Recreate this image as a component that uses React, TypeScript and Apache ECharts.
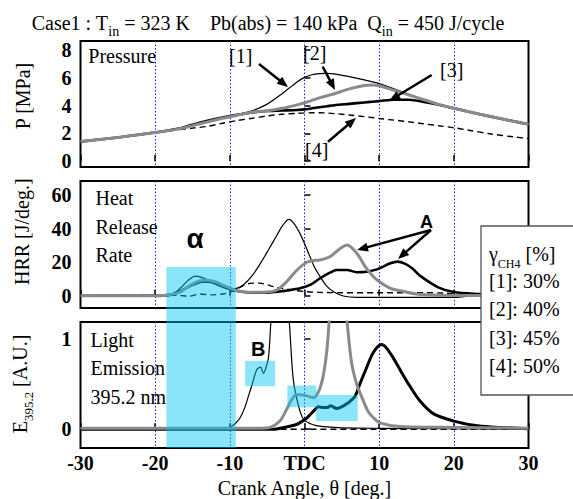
import React, { useEffect, useRef } from 'react';
import * as echarts from 'echarts';

const SERIF = '"Liberation Serif","Times New Roman",serif';
const SANS = '"Liberation Sans",Arial,sans-serif';

// ---- x axis ticks ----
const xTicks = [-30, -20, -10, 0, 10, 20, 30];

// ---- Pressure [MPa] ----
const pTheta = [-30, -25, -20, -17, -15, -13, -11, -9, -7, -5, -3, -1, 0, 1, 2, 3, 4, 6, 8, 9, 10, 12, 14, 16, 18, 20, 22, 25, 28, 30];
const p1 = [1.4, 1.7, 2.05, 2.32, 2.62, 2.88, 3.12, 3.35, 3.62, 4.1, 4.85, 5.7, 6.03, 6.22, 6.3, 6.32, 6.28, 6.08, 5.85, 5.72, 5.58, 5.2, 4.8, 4.42, 4.08, 3.8, 3.55, 3.2, 2.87, 2.66];
const p2 = [1.4, 1.7, 2.05, 2.3, 2.55, 2.82, 3.08, 3.3, 3.52, 3.62, 3.8, 4.05, 4.2, 4.37, 4.55, 4.7, 4.85, 5.2, 5.45, 5.48, 5.42, 5.1, 4.76, 4.42, 4.08, 3.8, 3.55, 3.2, 2.86, 2.65];
const p3 = [1.4, 1.7, 2.05, 2.32, 2.62, 2.9, 3.14, 3.34, 3.5, 3.6, 3.64, 3.68, 3.72, 3.8, 3.88, 3.95, 4.02, 4.12, 4.22, 4.27, 4.32, 4.42, 4.42, 4.26, 4.05, 3.8, 3.55, 3.2, 2.86, 2.65];
const p4 = [1.4, 1.7, 2.03, 2.25, 2.37, 2.5, 2.72, 2.92, 3.08, 3.25, 3.37, 3.44, 3.46, 3.48, 3.48, 3.46, 3.42, 3.32, 3.2, 3.14, 3.07, 2.95, 2.82, 2.68, 2.54, 2.4, 2.22, 1.95, 1.74, 1.62];
const pTicks = [0, 2, 4, 6, 8];

// ---- Heat release rate [J/deg.] ----
const h1Theta = [-30, -20, -18.5, -17.5, -16.5, -15.5, -14.6, -13.5, -12.5, -11, -10, -9, -8.2, -7, -5.9, -4.8, -3.7, -2.9, -2.1, -1.4, -0.6, 0.1, 0.75, 1.4, 2.1, 3, 3.9, 5.2, 7, 20, 22, 30];
const h1 = [0, 0, 0.3, 1.5, 5, 9.5, 11.7, 10.5, 8, 5, 3.8, 4.5, 6.4, 12, 19.3, 27.5, 36, 42, 45.5, 43, 37, 30, 23, 16.5, 11.3, 5.5, 2.4, -0.2, -1, -1, -0.3, 0];
const h2Theta = [-30, -20, -18.5, -17, -16, -15, -14, -13.3, -12, -11, -10, -9, -7, -5, -3.7, -2.4, -1, 0.3, 1.2, 2.1, 3.4, 4.8, 5.7, 7, 8.3, 9.7, 11.5, 12.8, 15, 18, 30];
const h2 = [0, 0, 0.3, 1.5, 4, 7, 8.9, 9.4, 8.3, 6.5, 4.5, 3, 2, 2.2, 3.4, 8.3, 15.3, 19.9, 21, 21.3, 23.2, 28.2, 30.2, 25.3, 16.3, 9.4, 4.4, 3, 1, 0.3, 0];
const h3Theta = [-30, -20, -18, -16.5, -15, -13.5, -12.5, -11, -10, -9, -7, -5, -3.7, -2, -0.6, 0.75, 2.1, 3.4, 4.3, 5.7, 7, 8.3, 9.7, 11.5, 12.4, 13.5, 14.5, 15.5, 17.9, 20, 23.4, 26, 30];
const h3 = [0, 0, 0.5, 3, 6.5, 8.5, 8.2, 6, 4, 2.8, 1.8, 1.8, 2.4, 3.3, 4.4, 6.4, 10.4, 13.7, 15.3, 15.3, 14, 14.3, 15.7, 19.3, 20.3, 19, 16, 11.8, 5, 2.2, 1, 0.5, 0];
const h4Theta = [-30, -17, -15.5, -14, -12.5, -11, -10, -9, -8, -7, -6, -5, -4, -3, -1.5, 0.3, 2, 5, 10, 15, 19, 20.5, 22, 30];
const h4 = [0, 0.3, -0.3, 1, 0.5, 1, 2, 4, 6.5, 7.5, 7.5, 6.5, 5.2, 4.4, 3.2, 2.4, 2, 1.8, 1.8, 1.8, 1.5, 0.6, 0.2, 0];
const hTicks = [0, 20, 40, 60];

// ---- Light emission E395.2 [A.U.] ----
const e1Theta = [-30, -10.5, -10, -9.3, -8.6, -8, -7.5, -7, -6.4, -5.9, -5.5, -5.1, -4.8, -4.5, -4, -3.3, -2.6, -2, -1.5, -0.8, -0.14, 0.8, 1.6, 3, 5, 10, 30];
const e1 = [0, 0, 0.02, 0.06, 0.13, 0.24, 0.37, 0.5, 0.66, 0.69, 0.62, 0.7, 0.81, 1.2, 1.8, 2.5, 1.8, 1.15, 0.55, 0.26, 0.11, 0.06, 0.04, 0.025, 0.015, 0.01, 0];
const e2Theta = [-30, -6, -4.6, -3.3, -2.4, -1.7, -1, -0.3, 0.3, 1.2, 1.9, 2.5, 3, 3.3, 4.4, 5.7, 6.3, 7, 7.9, 8.5, 9.2, 10.1, 12.8, 20, 30];
const e2 = [0.01, 0.01, 0.02, 0.09, 0.22, 0.33, 0.385, 0.38, 0.37, 0.35, 0.42, 0.59, 0.88, 1.2, 2.4, 1.2, 0.74, 0.5, 0.31, 0.2, 0.13, 0.07, 0.03, 0.02, 0.01];
const e3Theta = [-30, -4, -3.3, -1, 0.1, 0.75, 1.2, 1.9, 2.5, 3, 3.5, 4.3, 5, 5.4, 6.1, 6.8, 7.4, 8.3, 9.2, 10.3, 11, 11.9, 12.8, 14.1, 15.5, 17.3, 20, 22.7, 25, 30];
const e3 = [0, 0, 0.01, 0.055, 0.11, 0.16, 0.2, 0.25, 0.24, 0.24, 0.26, 0.23, 0.25, 0.27, 0.31, 0.37, 0.5, 0.68, 0.85, 0.94, 0.9, 0.79, 0.66, 0.48, 0.31, 0.17, 0.09, 0.044, 0.025, 0.005];
const e4Theta = [-30, 0, 30];
const e4 = [0, 0, 0];
const eTicks = [0, 1];

// ---- legend ----
const legendItems = ['[1]: 30%', '[2]: 40%', '[3]: 45%', '[4]: 50%'];

// highlighted (cyan) regions: [grid of top-left, theta0, yTop, grid of bottom-right, theta1, yBottom]
const boxes: [number, number, number, number, number, number][] = [
  [1, -18.5, 17.1, 2, -9.2, -0.209],
  [2, -7.95, 0.76, 2, -3.93, 0.477],
  [2, -2.3, 0.485, 2, 1.6, 0.243],
  [2, 1.55, 0.38, 2, 7.13, 0.092],
];

const pairs = (xs: number[], ys: number[]) => xs.map((x, i) => [x, ys[i]]);

export default function App() {
  const ref = useRef<HTMLDivElement>(null);
  useEffect(() => {
    const chart = echarts.init(ref.current!, null, { renderer: 'svg' });
    const gridBase = { left: 80.5, width: 448, show: true, borderColor: '#000', borderWidth: 2, backgroundColor: 'transparent' };
    const grids = [
      { ...gridBase, top: 41, height: 126 },
      { ...gridBase, top: 181, height: 127 },
      { ...gridBase, top: 322, height: 127 },
    ];
    const yRanges = [[-0.43, 8.65, pTicks], [-7.33, 68.35, hTicks], [-0.209, 1.191, eTicks]] as const;
    const xAxes = [0, 1, 2].map((i) => ({
      type: 'value', gridIndex: i, min: xTicks[0], max: xTicks[xTicks.length - 1], interval: 10,
      axisLine: { show: false },
      axisTick: { show: true, inside: true, length: 6, lineStyle: { color: '#000', width: 1.5 } },
      axisLabel: {
        show: i === 2, margin: 5, fontFamily: SERIF, fontSize: 20, fontWeight: 'bold', color: '#000',
        showMinLabel: true, showMaxLabel: true,
        formatter: (v: number) => (v === 0 ? 'TDC' : String(v)),
      },
      splitLine: { show: true, showMinLine: false, showMaxLine: false, lineStyle: { color: '#1a1aff', width: 1, type: [1.5, 2] } },
      name: i === 2 ? 'Crank Angle, θ [deg.]' : '',
      nameLocation: 'middle', nameGap: 30,
      nameTextStyle: { fontFamily: SERIF, fontSize: 20, color: '#000' },
    }));
    const yAxes = yRanges.map(([mn, mx, ticks], i) => ({
      type: 'value', gridIndex: i, min: mn, max: mx,
      axisLine: { show: false },
      splitLine: { show: false },
      axisTick: { show: true, inside: true, length: 6, customValues: ticks as any, lineStyle: { color: '#000', width: 1.5 } },
      axisLabel: { show: true, customValues: ticks as any, margin: 9, fontFamily: SERIF, fontSize: 20, fontWeight: 'bold', color: '#000' },
    }));

    const thin = { color: '#000', width: 1.2 };
    const gray = { color: '#8a8a8a', width: 3 };
    const thick = { color: '#000', width: 2.6 };
    const dash = { color: '#000', width: 1.4, type: [6, 4] };
    const mk = (g: number, xs: number[], ys: number[], ls: any, name: string) => ({
      type: 'line', name, xAxisIndex: g, yAxisIndex: g, data: pairs(xs, ys),
      showSymbol: false, symbol: 'none', smooth: 0.3, lineStyle: ls, z: 2, silent: true,
    });
    const series = [
      mk(0, pTheta, p4, dash, '[4]'), mk(0, pTheta, p1, thin, '[1]'), mk(0, pTheta, p3, thick, '[3]'), mk(0, pTheta, p2, gray, '[2]'),
      mk(1, h4Theta, h4, dash, '[4]'), mk(1, h1Theta, h1, thin, '[1]'), mk(1, h3Theta, h3, thick, '[3]'), mk(1, h2Theta, h2, gray, '[2]'),
      mk(2, e4Theta, e4, dash, '[4]'), mk(2, e1Theta, e1, thin, '[1]'), mk(2, e3Theta, e3, { ...thick, width: 3 }, '[3]'), mk(2, e2Theta, e2, gray, '[2]'),
    ];

    chart.setOption({
      animation: false,
      backgroundColor: '#fff',
      grid: grids,
      xAxis: xAxes,
      yAxis: yAxes,
      series,
    });

    const G: any[] = [];
    const txt = (text: string, x: number, y: number, o: any = {}) => ({
      type: 'text', x, y, z: 30, silent: true,
      style: { text, fontFamily: SERIF, fontSize: 20, fill: '#000', align: 'left', verticalAlign: 'middle', ...o },
    });
    const arrow = (x1: number, y1: number, x2: number, y2: number) => {
      const dx = x2 - x1, dy = y2 - y1, L = Math.hypot(dx, dy), ux = dx / L, uy = dy / L;
      const hl = 11, hw = 4.5;
      const bx = x2 - ux * hl, by = y2 - uy * hl;
      G.push({ type: 'line', z: 30, silent: true, shape: { x1, y1, x2: bx + ux, y2: by + uy }, style: { stroke: '#000', lineWidth: 2.5 } });
      G.push({ type: 'polygon', z: 30, silent: true, shape: { points: [[x2, y2], [bx - uy * hw, by + ux * hw], [bx + uy * hw, by - ux * hw]] }, style: { fill: '#000' } });
    };

    // cyan highlight boxes, positioned through the axes' own scales
    boxes.forEach(([ga, xa, ya, gb, xb, yb]) => {
      const a = chart.convertToPixel({ gridIndex: ga } as any, [xa, ya]) as number[];
      const b = chart.convertToPixel({ gridIndex: gb } as any, [xb, yb]) as number[];
      G.push({ type: 'rect', z: 10, silent: true, shape: { x: a[0], y: a[1], width: b[0] - a[0], height: b[1] - a[1] }, style: { fill: 'rgba(0,195,240,0.45)' } });
    });

    // title with subscripts
    const sub = { fontFamily: SERIF, fontSize: 14, verticalAlign: 'bottom', fill: '#000' };
    const main = { fontFamily: SERIF, fontSize: 20, lineHeight: 32, fill: '#000' };
    G.push(txt('{m|Case1 : T}{s|in}{m| = 323 K\u00a0\u00a0\u00a0\u00a0Pb(abs) = 140 kPa\u00a0\u00a0Q}{s|in}{m| = 450 J/cycle}', 31.7, 22.5, { rich: { m: main, s: sub } }));

    // y-axis names (rotated)
    const rot = (text: string, x: number, y: number, rich?: any) => ({
      type: 'text', x, y, rotation: Math.PI / 2, z: 30, silent: true,
      style: { text, fontFamily: SERIF, fontSize: 20, fill: '#000', align: 'center', verticalAlign: 'middle', rich },
    });
    G.push(rot('P [MPa]', 23, 96));
    G.push(rot('HRR [J/deg.]', 21.5, 231.7));
    G.push(rot('{m|E}{s|395.2}{m| [A.U.]}', 20, 384, { m: { ...main, lineHeight: 30 }, s: { ...sub, fontSize: 13 } }));

    // panel annotations
    G.push(txt('Pressure', 88.3, 56.4));
    G.push(txt('Heat', 95.5, 198.3));
    G.push(txt('Release', 95.5, 226.7));
    G.push(txt('Rate', 95.5, 255));
    G.push(txt('Light', 90.5, 340));
    G.push(txt('Emission', 90.5, 368.3));
    G.push(txt('395.2 nm', 90.5, 396.7));
    G.push(txt('[1]', 229, 56));
    G.push(txt('[2]', 303, 53));
    G.push(txt('[3]', 440, 70));
    G.push(txt('[4]', 305, 149.5));
    arrow(259, 64, 288, 87);
    arrow(322.7, 66.7, 335, 90);
    arrow(431.7, 75, 389.3, 100.7);
    arrow(328, 141.7, 356, 118);
    G.push(txt('α', 195, 238.6, { fontFamily: SANS, fontWeight: 'bold', fontSize: 28, align: 'center' }));
    G.push(txt('A', 426.5, 221.5, { fontFamily: SANS, fontWeight: 'bold', fontSize: 18, align: 'center' }));
    arrow(431, 230, 357, 250);
    arrow(431, 230, 398, 259);
    G.push(txt('B', 258.3, 349, { fontFamily: SANS, fontWeight: 'bold', fontSize: 20, align: 'center' }));

    // legend box
    G.push({ type: 'rect', z: 40, silent: true, shape: { x: 481, y: 226, width: 100, height: 169 }, style: { fill: '#fff', stroke: '#555', lineWidth: 1.3 } });
    G.push({ ...txt('{g|γ}{s|CH4}{g| [%]}', 489, 253.5, { rich: { g: { ...main, lineHeight: 32 }, s: { ...sub, fontSize: 12 } } }), z: 41 });
    legendItems.forEach((t, i) => G.push({ ...txt(t, 489, 281 + i * 28.4), z: 41 }));

    chart.setOption({ graphic: G });

    return () => chart.dispose();
  }, []);
  return <div ref={ref} style={{ position: 'fixed', left: 0, top: 0, width: 573, height: 499, background: '#fff' }} />;
}
